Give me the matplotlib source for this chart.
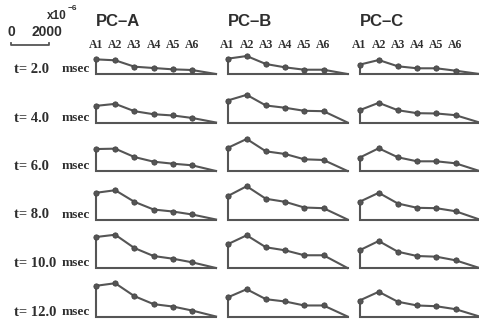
import numpy as np
import matplotlib.pyplot as plt

# peak strain per channel (units of 1e-6)
columns = ['PC\u2013A', 'PC\u2013B', 'PC\u2013C']
channels = ['A1', 'A2', 'A3', 'A4', 'A5', 'A6']
times = ['2.0', '4.0', '6.0', '8.0', '10.0', '12.0']

pc_a = [
    [770, 720, 385, 315, 245, 210],
    [875, 980, 595, 435, 370, 240],
    [1155, 1175, 735, 490, 385, 300],
    [1405, 1540, 930, 525, 420, 265],
    [1630, 1750, 1050, 630, 490, 300],
    [1615, 1750, 1070, 650, 525, 315],
]
pc_b = [
    [805, 945, 525, 350, 225, 225],
    [1155, 1455, 895, 775, 615, 595],
    [1210, 1685, 1035, 895, 615, 580],
    [1225, 1750, 1090, 930, 630, 595],
    [1245, 1720, 1090, 930, 670, 670],
    [1000, 1435, 910, 790, 580, 580],
]
pc_c = [
    [490, 735, 405, 300, 300, 175],
    [645, 1035, 645, 490, 475, 385],
    [700, 1195, 720, 510, 510, 405],
    [930, 1405, 840, 615, 595, 435],
    [930, 1420, 855, 630, 595, 405],
    [840, 1300, 775, 580, 540, 385],
]
scale_len = 2000

W, H = 479, 324
fig = plt.figure(figsize=(W / 100, H / 100), dpi=100)
fig.patch.set_facecolor('white')

gray = '#555555'
txt = '#2e2e2e'
px_unit = 52.6          # strain units per pixel
col_left = [96, 227.5, 359.5]
step = 19.2             # pixels between channels
x_end = 6.25            # baseline end in channel units
ax_h = 40

serif = 'Liberation Serif'
sans = 'Liberation Sans'

for c, (name, data) in enumerate(zip(columns, [pc_a, pc_b, pc_c])):
    left = col_left[c]
    fig.text(left / W, 1 - 22 / H, name, fontsize=12, fontweight='bold',
             family=sans, color=txt, va='center', ha='left')
    for k, ch in enumerate(channels):
        fig.text((left + k * step) / W, 1 - 45 / H, ch, fontsize=8.5,
                 fontweight='bold', family=serif, color=txt,
                 va='center', ha='center')
    for r, vals in enumerate(data):
        base = 74 + 48.5 * r
        ax = fig.add_axes([left / W, (H - base) / H,
                           x_end * step / W, ax_h / H])
        ax.set_xlim(0, x_end)
        ax.set_ylim(0, ax_h * px_unit)
        ax.axis('off')
        xs = np.arange(len(vals))
        # frame: left edge up to A1 and the baseline
        ax.plot([0, 0, x_end], [vals[0], 0, 0], color=gray, lw=1.5,
                clip_on=False, solid_joinstyle='miter')
        ax.plot(np.r_[xs, x_end], np.r_[vals, 0], color=gray,
                lw=1.5, clip_on=False)
        ax.plot(xs, vals, 'o', color=gray, ms=3.8, mec='#444444',
                mew=0.6, clip_on=False)

for r, t in enumerate(times):
    base = 74 + 48.5 * r
    fig.text(14 / W, 1 - (base - 4.5) / H, 't= ' + t, fontsize=10.5,
             fontweight='bold', family=serif, color=txt, va='center')
    fig.text(62 / W, 1 - (base - 4.5) / H, 'msec', fontsize=9.5,
             fontweight='bold', family=serif, color=txt, va='center')

# scale bar
sax = fig.add_axes([11 / W, (H - 46) / H, scale_len / px_unit / W, 6 / H])
sax.set_xlim(0, scale_len)
sax.set_ylim(0, 6)
sax.axis('off')
sax.plot([0, 0, scale_len, scale_len], [3.5, 1, 1, 3.5], color=gray, lw=1.3,
         clip_on=False)
fig.text(11 / W, 1 - 32 / H, '0', fontsize=10, fontweight='bold',
         family=sans, color=txt, va='center', ha='center')
fig.text(47 / W, 1 - 32 / H, '2000', fontsize=10, fontweight='bold',
         family=sans, color=txt, va='center', ha='center')
fig.text(47 / W, 1 - 16 / H, 'x10', fontsize=8.5, fontweight='bold',
         family=sans, color=txt, va='center', ha='left')
fig.text(68 / W, 1 - 8 / H, '\u22126', fontsize=6, fontweight='bold',
         family=sans, color=txt, va='center', ha='left')

fig.savefig('out.png', dpi=100, facecolor='white')
